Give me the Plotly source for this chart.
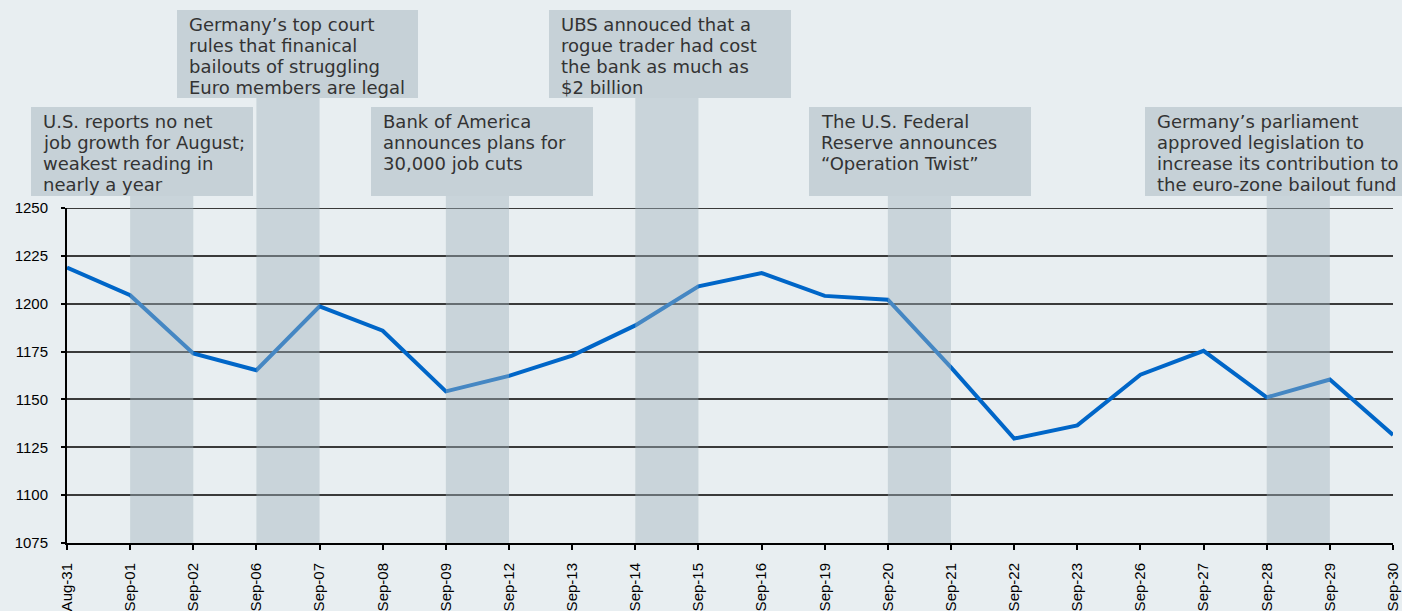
import plotly.graph_objects as go

dates = ["Aug-31", "Sep-01", "Sep-02", "Sep-06", "Sep-07", "Sep-08", "Sep-09", "Sep-12",
         "Sep-13", "Sep-14", "Sep-15", "Sep-16", "Sep-19", "Sep-20", "Sep-21", "Sep-22",
         "Sep-23", "Sep-26", "Sep-27", "Sep-28", "Sep-29", "Sep-30"]
sp500 = [1218.89, 1204.42, 1173.97, 1165.24, 1198.62, 1185.90, 1154.23, 1162.27,
         1172.87, 1188.68, 1209.11, 1216.01, 1204.09, 1202.09, 1166.76, 1129.56,
         1136.43, 1162.95, 1175.38, 1151.06, 1160.40, 1131.42]
y_ticks = [1075, 1100, 1125, 1150, 1175, 1200, 1225, 1250]

# events: band start category, band end category, text lines
event_start = ["Sep-01", "Sep-06", "Sep-09", "Sep-14", "Sep-20", "Sep-28"]
event_end = ["Sep-02", "Sep-07", "Sep-12", "Sep-15", "Sep-21", "Sep-29"]
event_text = [
    ["U.S. reports no net", "job growth for August;", "weakest reading in", "nearly a year"],
    ["Germany’s top court", "rules that finanical", "bailouts of struggling", "Euro members are legal"],
    ["Bank of America", "announces plans for", "30,000 job cuts"],
    ["UBS annouced that a", "rogue trader had cost", "the bank as much as", "$2 billion"],
    ["The U.S. Federal", "Reserve announces", "“Operation Twist”"],
    ["Germany’s parliament", "approved legislation to", "increase its contribution to", "the euro-zone bailout fund"],
]
# box layout in pixels (left, right, top, bottom)
box_px = [(31, 253, 107, 196), (177, 418, 10, 98), (371, 593, 107, 196),
          (549, 791, 10, 98), (809, 1031, 107, 196), (1145, 1420, 107, 196)]

W, H = 1402, 611
L, R, T, B = 67, 9, 208, 68
PW, PH = W - L - R, H - T - B
n = len(dates) - 1
LINE_H = 21.3

def px_x(px):
    return (px - L) / PW

def px_y(py):
    return (H - B - py) / PH

fig = go.Figure()
fig.add_trace(go.Scatter(x=list(range(len(dates))), y=sp500, mode="lines",
                         line=dict(color="#0066C8", width=4), cliponaxis=False,
                         hoverinfo="skip", showlegend=False))

# top gridline (at the edge of the range)
shapes = [dict(type="line", xref="paper", yref="y", x0=0, x1=1,
               y0=y_ticks[-1], y1=y_ticks[-1], line=dict(color="#3A3A3A", width=1.8),
               layer="below")]
annotations = []
for s, e, lines, (bl, br, bt, bb) in zip(event_start, event_end, event_text, box_px):
    i0, i1 = dates.index(s), dates.index(e)
    shapes.append(dict(type="rect", xref="paper", yref="paper", x0=i0 / n, x1=i1 / n,
                       y0=0, y1=px_y(bb), line=dict(width=0),
                       fillcolor="rgba(160,178,188,0.43)", layer="above"))
    shapes.append(dict(type="rect", xref="paper", yref="paper", x0=px_x(bl), x1=px_x(br),
                       y0=px_y(bb), y1=px_y(bt), line=dict(width=0),
                       fillcolor="#C6D1D7", layer="above"))
    for k, ln in enumerate(lines):
        baseline = bt + 20 + LINE_H * k
        annotations.append(dict(text=ln, xref="paper", yref="paper", x=px_x(bl + 10),
                                y=px_y(baseline - 6), xanchor="left", yanchor="middle",
                                align="left", showarrow=False,
                                font=dict(family="DejaVu Sans", size=18, color="#333333")))

fig.update_layout(
    width=W, height=H,
    margin=dict(l=L, r=R, t=T, b=B, autoexpand=False),
    paper_bgcolor="#E8EEF1", plot_bgcolor="#E8EEF1",
    shapes=shapes, annotations=annotations,
    xaxis=dict(range=[0, n], tickmode="array", tickvals=list(range(len(dates))),
               ticktext=dates, tickangle=-90, showgrid=False, zeroline=False,
               automargin=False,
               showline=True, linecolor="#000000", linewidth=2,
               ticks="outside", ticklen=5, tickwidth=2, tickcolor="#000000",
               ticklabelstandoff=7,
               tickfont=dict(family="Liberation Sans", size=15, color="#000000")),
    yaxis=dict(range=[1075, 1250], tickmode="array", tickvals=y_ticks,
               showgrid=True, gridcolor="#3A3A3A", gridwidth=1.8, zeroline=False,
               automargin=False,
               showline=True, linecolor="#000000", linewidth=2,
               ticks="outside", ticklen=4, tickwidth=1.5, tickcolor="#000000",
               ticklabelstandoff=10,
               tickfont=dict(family="Liberation Sans", size=15, color="#000000")),
)

fig.write_html("out.html", config={"displayModeBar": False},
               post_script="document.body.style.margin='0';document.body.style.background='#E8EEF1';")
